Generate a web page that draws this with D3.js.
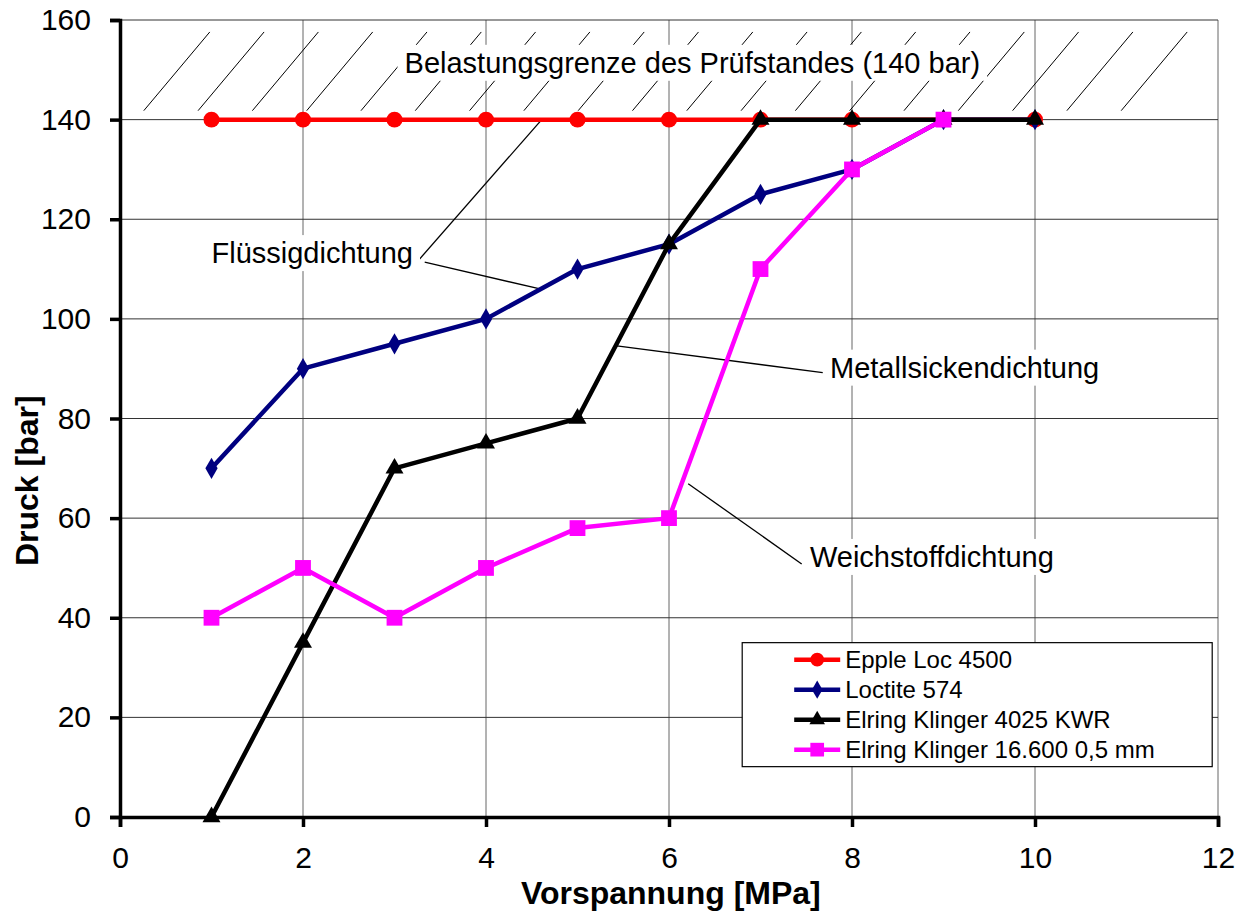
<!DOCTYPE html>
<html>
<head>
<meta charset="utf-8">
<script src="https://cdn.jsdelivr.net/npm/d3@7"></script>
<style>
  body { margin: 0; background: #fff; }
  svg { font-family: "Liberation Sans", Arial, sans-serif; }
</style>
</head>
<body>
<div id="chart"></div>
<script>
// Druck vs. Vorspannung — Dichtungsvergleich
const vorspannung = [1, 2, 3, 4, 5, 6, 7, 8, 9, 10];
const eppleLoc = [140, 140, 140, 140, 140, 140, 140, 140, 140, 140];
const loctite = [70, 90, 95, 100, 110, 115, 125, 130, 140, 140];
const elring4025 = [0, 35, 70, 75, 80, 115, 140, 140, 140, 140];
const elring16600 = [40, 50, 40, 50, 58, 60, 110, 130, 140];
const seriesNames = ["Epple Loc 4500", "Loctite 574", "Elring Klinger 4025 KWR", "Elring Klinger 16.600 0,5 mm"];
const xTicks = [0, 2, 4, 6, 8, 10, 12];
const yTicks = [0, 20, 40, 60, 80, 100, 120, 140, 160];

(function () {
  const W = 1247, H = 917;
  const margin = { top: 20, right: 29, bottom: 100, left: 120 };
  const width = W - margin.left - margin.right;
  const height = H - margin.top - margin.bottom;

  const svg = d3.select("#chart").append("svg")
    .attr("width", W).attr("height", H);
  const g = svg.append("g").attr("transform", `translate(${margin.left},${margin.top})`);

  const x = d3.scaleLinear().domain([0, 12]).range([0, width]);
  const y = d3.scaleLinear().domain([0, 160]).range([height, 0]);

  // Grid
  g.selectAll(".vgrid").data(xTicks.slice(1)).join("line")
    .attr("x1", d => x(d)).attr("x2", d => x(d))
    .attr("y1", 0).attr("y2", height)
    .attr("stroke", "#666").attr("stroke-width", 1);
  g.selectAll(".hgrid").data(yTicks.slice(1)).join("line")
    .attr("x1", 0).attr("x2", width)
    .attr("y1", d => y(d)).attr("y2", d => y(d))
    .attr("stroke", "#333").attr("stroke-width", 1);

  // Hatched zone above the test-rig limit
  const hatch = g.append("g");
  const hTop = y(157.6), hBot = y(141.8), hDx = 66;
  for (let sx = x(0.26); sx < x(11.15); sx += 54.3) {
    hatch.append("line")
      .attr("x1", sx).attr("y1", hBot)
      .attr("x2", sx + hDx).attr("y2", hTop)
      .attr("stroke", "#000").attr("stroke-width", 1);
  }

  // Leader lines
  const leaders = [
    [[3.245, 111.4], [4.59, 139.6]],
    [[3.33, 111.4], [4.59, 106.0]],
    [[5.43, 94.6], [7.68, 89.2]],
    [[6.21, 66.9], [7.45, 50.8]]
  ];
  g.selectAll(".leader").data(leaders).join("line")
    .attr("x1", d => x(d[0][0])).attr("y1", d => y(d[0][1]))
    .attr("x2", d => x(d[1][0])).attr("y2", d => y(d[1][1]))
    .attr("stroke", "#000").attr("stroke-width", 1.3);

  // Annotation labels with white backing (positions are text baselines)
  const notes = [
    { t: "Belastungsgrenze des Prüfstandes (140 bar)", x: 3.11, y: 149.4 },
    { t: "Flüssigdichtung", x: 1.0, y: 111.2 },
    { t: "Metallsickendichtung", x: 7.76, y: 88.2 },
    { t: "Weichstoffdichtung", x: 7.54, y: 50.2 }
  ];
  notes.forEach(n => {
    const bg = g.append("rect").attr("fill", "#fff");
    const t = g.append("text")
      .attr("x", x(n.x)).attr("y", y(n.y))
      .attr("font-size", 29).attr("fill", "#000")
      .text(n.t);
    const b = t.node().getBBox();
    bg.attr("x", b.x - 7).attr("y", b.y - 2).attr("width", b.width + 14).attr("height", b.height + 4);
  });

  // Series
  const series = [
    { name: seriesNames[0], vals: eppleLoc, color: "#ff0000", sym: d3.symbolCircle, size: 200 },
    { name: seriesNames[1], vals: loctite, color: "#000080", sym: d3.symbolDiamond, size: 130 },
    { name: seriesNames[2], vals: elring4025, color: "#000000", sym: d3.symbolTriangle, size: 140 },
    { name: seriesNames[3], vals: elring16600, color: "#ff00ff", sym: d3.symbolSquare, size: 250 }
  ];
  const line = d3.line().x(d => x(d[0])).y(d => y(d[1]));

  series.forEach(s => {
    const pts = s.vals.map((v, i) => [vorspannung[i], v]);
    g.append("path").datum(pts)
      .attr("d", line).attr("fill", "none")
      .attr("stroke", s.color).attr("stroke-width", 4.5)
      .attr("stroke-linejoin", "round");
    g.selectAll(null).data(pts).join("path")
      .attr("transform", d => `translate(${x(d[0])},${y(d[1])})`)
      .attr("d", d3.symbol().type(s.sym).size(s.size))
      .attr("fill", s.color);
  });

  // Axes
  const xAxis = g.append("g").attr("transform", `translate(0,${height})`)
    .call(d3.axisBottom(x).tickValues(xTicks).tickSize(10).tickPadding(20).tickFormat(d3.format("d")));
  const yAxis = g.append("g")
    .call(d3.axisLeft(y).tickValues(yTicks).tickSize(10).tickPadding(19).tickFormat(d3.format("d")));
  [xAxis, yAxis].forEach(a => {
    a.select(".domain").attr("stroke", "#000").attr("stroke-width", 3.5);
    a.selectAll(".tick line").attr("stroke", "#000").attr("stroke-width", 3.5);
    a.selectAll(".tick text").attr("font-size", 30).attr("fill", "#000")
      .attr("font-family", "Liberation Sans, Arial, sans-serif");
  });

  // Axis titles
  svg.append("text")
    .attr("x", margin.left + x(6.02)).attr("y", 904)
    .attr("text-anchor", "middle")
    .attr("font-size", 32).attr("font-weight", "bold")
    .text("Vorspannung [MPa]");
  svg.append("text")
    .attr("transform", `translate(38,${margin.top + y(67.5)}) rotate(-90)`)
    .attr("text-anchor", "middle")
    .attr("font-size", 32).attr("font-weight", "bold")
    .text("Druck [bar]");

  // Legend
  const leg = g.append("g").attr("transform", `translate(${x(6.8)},${y(35)})`);
  leg.append("rect")
    .attr("width", 470).attr("height", 124)
    .attr("fill", "#fff").attr("stroke", "#000").attr("stroke-width", 1.2);
  series.forEach((s, i) => {
    const row = leg.append("g").attr("transform", `translate(0,${17 + i * 30})`);
    row.append("line").attr("x1", 52).attr("x2", 98)
      .attr("stroke", s.color).attr("stroke-width", 4.5);
    row.append("path").attr("transform", "translate(75,0)")
      .attr("d", d3.symbol().type(s.sym).size(s.size * 0.75))
      .attr("fill", s.color);
    row.append("text").attr("x", 103).attr("dy", "0.35em")
      .attr("font-size", 24).attr("fill", "#000")
      .text(s.name);
  });
})();
</script>
</body>
</html>
